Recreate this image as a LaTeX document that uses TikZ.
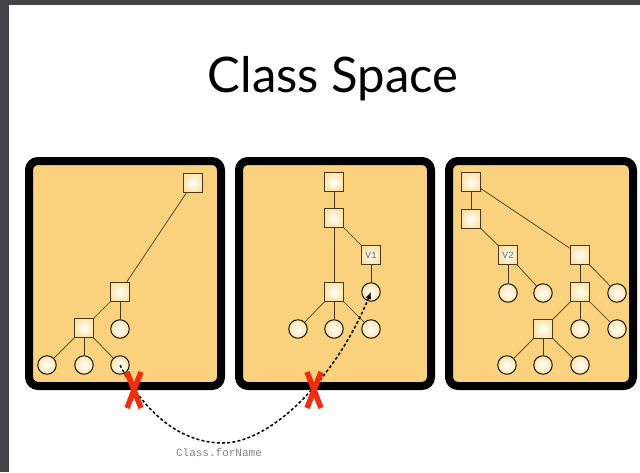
\documentclass[tikz,border=0pt]{standalone}
\usepackage{fontspec}
\setmainfont{Lato}
\newfontfamily\monofont{Liberation Mono}
\usetikzlibrary{calc,arrows.meta}
\definecolor{panelfill}{RGB}{250,210,125}
\definecolor{nodeout}{RGB}{252,229,170}
\definecolor{edgecol}{RGB}{70,55,30}
\definecolor{bgdark}{RGB}{68,68,70}
\definecolor{xred}{RGB}{240,45,15}
\tikzset{
  panel/.style={draw=black, line width=8pt, fill=panelfill, rounded corners=9pt},
  sq/.style={rectangle, draw=edgecol, line width=0.8pt, minimum size=18.5pt, inner sep=0pt,
             shading=radial, inner color=white, outer color=nodeout},
  ci/.style={circle, draw=black, line width=0.9pt, minimum size=18.5pt, inner sep=0pt,
             shading=radial, inner color=white, outer color=nodeout},
  ver/.style={sq, font=\monofont\fontsize{9.5}{10}\selectfont, text=black!60},
  edge/.style={draw=edgecol, line width=0.7pt},
  jump/.style={draw=black, line width=1.5pt, dash pattern=on 3pt off 2.2pt, -{Latex[length=7pt,width=6pt]}},
  redx/.style={draw=xred, line width=5.5pt},
}
\begin{document}
\begin{tikzpicture}[x=1pt,y=-1pt]
\useasboundingbox (0,0) rectangle (640,472);
\fill[bgdark] (0,0) rectangle (640,472);
\fill[white] (9,5) rectangle (640,472);

\node[anchor=base, font=\fontsize{49}{52}\selectfont] (title) at (333,92) {Class Space};

% panels
\path[panel] (29,161) rectangle (221,386);
\path[panel] (239,161) rectangle (431,386);
\path[panel] (449,161) rectangle (633,386);

% panel 1
\node[sq] (a1) at (193,183) {};
\node[sq] (a2) at (120,292) {};
\node[sq] (a3) at (84,328) {};
\node[ci] (a4) at (120,329) {};
\node[ci] (a5) at (47,365) {};
\node[ci] (a6) at (84,365) {};
\node[ci] (a7) at (120,365) {};
\draw[edge] (a1) -- (a2);
\draw[edge] (a2) -- (a3);
\draw[edge] (a2) -- (a4);
\draw[edge] (a3) -- (a5);
\draw[edge] (a3) -- (a6);
\draw[edge] (a3) -- (a7);

% panel 2
\node[sq] (b1) at (334,182) {};
\node[sq] (b2) at (334,218) {};
\node[ver] (b3) at (371,255) {V1};
\node[sq] (b4) at (334,292) {};
\node[ci] (b5) at (371,292) {};
\node[ci] (b6) at (298,329) {};
\node[ci] (b7) at (334,329) {};
\node[ci] (b8) at (371,329) {};
\draw[edge] (b1) -- (b2);
\draw[edge] (b2) -- (b3);
\draw[edge] (b2) -- (b4);
\draw[edge] (b3) -- (b5);
\draw[edge] (b4) -- (b6);
\draw[edge] (b4) -- (b7);
\draw[edge] (b4) -- (b8);

% panel 3
\node[sq] (c1) at (471,182) {};
\node[sq] (c2) at (471,219) {};
\node[ver] (c3) at (508,255) {V2};
\node[sq] (c4) at (580,255) {};
\node[ci] (c5) at (508,293) {};
\node[ci] (c6) at (543,293) {};
\node[sq] (c7) at (580,292) {};
\node[ci] (c8) at (617,293) {};
\node[sq] (c9) at (543,329) {};
\node[ci] (c10) at (580,329) {};
\node[ci] (c11) at (617,329) {};
\node[ci] (c12) at (507,365) {};
\node[ci] (c13) at (543,365) {};
\node[ci] (c14) at (580,365) {};
\draw[edge] (c1) -- (c2);
\draw[edge] (c1) -- (c4);
\draw[edge] (c2) -- (c3);
\draw[edge] (c3) -- (c5);
\draw[edge] (c3) -- (c6);
\draw[edge] (c4) -- (c7);
\draw[edge] (c4) -- (c8);
\draw[edge] (c7) -- (c9);
\draw[edge] (c7) -- (c10);
\draw[edge] (c7) -- (c11);
\draw[edge] (c9) -- (c12);
\draw[edge] (c9) -- (c13);
\draw[edge] (c9) -- (c14);

% Class.forName jump
\coordinate (low) at (223,443);
\draw[jump] (a7.center) .. controls (140,405) and (175,443) .. (low)
  .. controls (270,443) and (335,380) .. (b5.center);
\node[font=\monofont\fontsize{11}{12}\selectfont, text=black!48] (lbl) at (219,453) {Class.forName};

% red crosses
\coordinate (x1) at (134,390);
\coordinate (x2) at (314,390);
\foreach \p in {x1,x2}{
  \draw[redx] ($(\p)+(-7,-18)$) -- ($(\p)+(7,18)$);
  \draw[redx] ($(\p)+(7,-18)$) -- ($(\p)+(-7,18)$);
}
\end{tikzpicture}
\end{document}
